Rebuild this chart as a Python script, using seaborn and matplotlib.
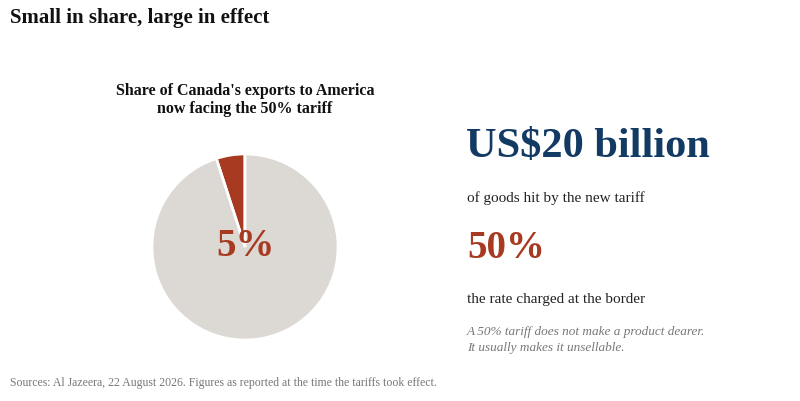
import matplotlib
matplotlib.use("Agg")
import matplotlib.pyplot as plt
import seaborn as sns

sns.set_theme(style="white")
plt.rcParams['font.family'] = ['Liberation Serif', 'DejaVu Serif']

labels = ["Facing 50% tariff", "Other exports"]
shares = [5, 95]
colors = ["#a83a22", "#dcd8d3"]

fig = plt.figure(figsize=(8, 4.01), dpi=100)
fig.patch.set_facecolor("white")
ax = fig.add_axes([245/800 - 94/800, 1 - (247+94)/401, 188/800, 188/401])
ax.pie(shares, colors=colors, startangle=90, counterclock=True,
       wedgeprops=dict(edgecolor="white", linewidth=2))
ax.set_xlim(-1.01, 1.01)
ax.set_ylim(-1.01, 1.01)
ax.set_aspect("equal")
ax.text(0, 0, f"{shares[0]}%", ha="center", va="center", fontsize=28,
        fontweight="semibold", color="#a83a22")

fig.text(10/800, 1 - 18/401, "Small in share, large in effect", fontsize=15,
         fontweight="bold", va="center", color="#111111")
fig.text(245/800, 1 - 100/401, "Share of Canada's exports to America\nnow facing the 50% tariff",
         fontsize=11.5, fontweight="bold", ha="center", va="center", color="#111111",
         linespacing=1.15)
fig.text(466/800, 1 - 147/401, "US$20 billion", fontsize=30.5, fontweight="bold",
         color="#123a63", va="center")
fig.text(467/800, 1 - 198/401, "of goods hit by the new tariff", fontsize=11,
         color="#222222", va="center")
fig.text(467/800, 1 - 249/401, "50%", fontsize=28, fontweight="bold",
         color="#a83a22", va="center")
fig.text(467/800, 1 - 299/401, "the rate charged at the border", fontsize=11,
         color="#222222", va="center")
fig.text(467/800, 1 - 340/401, "A 50% tariff does not make a product dearer.\nIt usually makes it unsellable.",
         fontsize=9.5, style="italic", color="#777777", va="center", linespacing=1.4)
fig.text(10/800, 1 - 383/401, "Sources: Al Jazeera, 22 August 2026. Figures as reported at the time the tariffs took effect.",
         fontsize=8.5, color="#777777", va="center")

fig.savefig("out.png", dpi=100)
